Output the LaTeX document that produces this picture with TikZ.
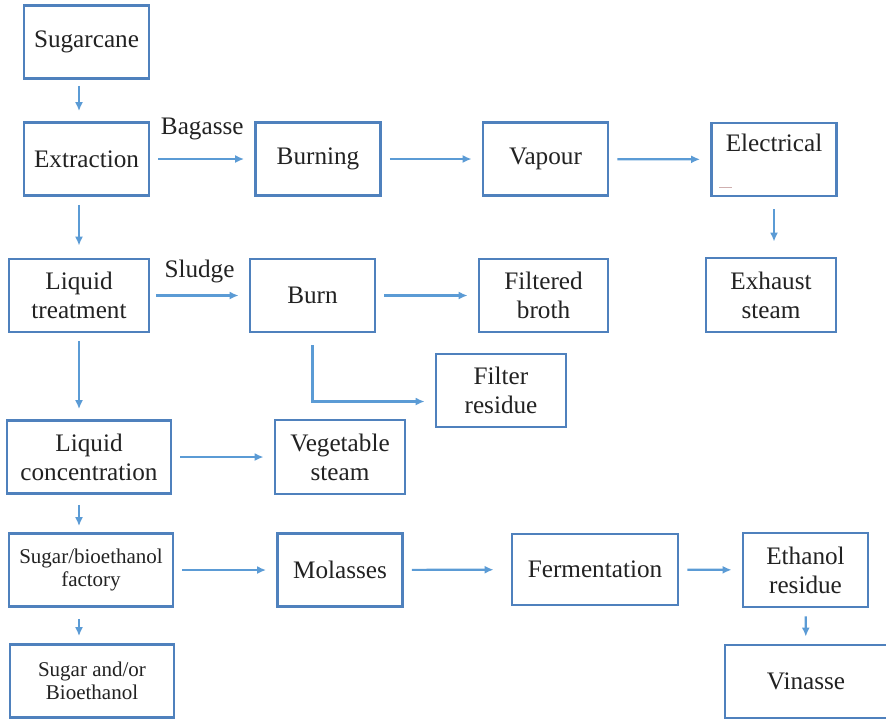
\documentclass[tikz,border=0pt]{standalone}
\usepackage{fontspec}
\setmainfont{LiberationSerif}[Extension=.ttf, UprightFont=*-Regular, BoldFont=*-Bold, ItalicFont=*-Italic]
\usepackage{xcolor}
\usepackage{tikz}
\usetikzlibrary{arrows.meta}
\definecolor{boxblue}{HTML}{4F81BD}
\definecolor{arrowblue}{HTML}{5B9BD5}
\definecolor{inkgray}{HTML}{222222}

\begin{document}
\begin{tikzpicture}[
  x=0.5pt, y=-0.5pt,
  procb/.style={
    rectangle, draw=boxblue, line width=1.4pt,
    fill=white, inner sep=0pt,
    minimum width=62.5pt, minimum height=36.5pt,
    align=center, font=\fontsize{12.6}{14.5}\selectfont, text=inkgray
  },
  smallb/.style={
    procb, font=\fontsize{10.5}{11.5}\selectfont
  },
  arr/.style={-{Latex[length=4.5pt,width=4pt]}, line width=1.1pt, arrowblue,
    shorten <=4pt, shorten >=5pt},
  flowlbl/.style={font=\fontsize{12.6}{14.5}\selectfont, text=inkgray, inner sep=0pt}
]
\useasboundingbox (0,0) rectangle (886,719);

%=== TOP ROW ===
\node[procb] (cane)    at (86.5,42)  {Sugarcane};
\node[procb] (extr)    at (86.5,159) {Extraction};
\node[procb] (burning) at (318,159)  {Burning};
\node[procb] (vapour)  at (545.5,159) {Vapour};
\node[procb] (elec)    at (774,159.5) {Electrical\\[2pt]\mbox{}};

%=== SECOND ROW ===
\node[procb, minimum width=70pt] (ltreat) at (79,295.5) {Liquid\\treatment};
\node[procb] (burn) at (312.5,295.5) {Burn};
\node[procb, minimum width=64.5pt] (broth) at (543.5,295.5) {Filtered\\broth};
\node[procb, minimum width=65pt, minimum height=37pt] (exhaust) at (771,295) {Exhaust\\steam};
\node[procb, minimum width=65pt] (residue) at (501,390.5) {Filter\\residue};

%=== CONCENTRATION ROW ===
\node[procb, minimum width=82pt] (lconc) at (89,457) {Liquid\\concentration};
\node[procb, minimum width=65pt, minimum height=37pt] (vegsteam) at (340,457) {Vegetable\\steam};

%=== FACTORY ROW ===
\node[smallb, minimum width=82pt] (factory) at (91,570) {Sugar/bioethanol\\factory};
\node[procb] (molasses) at (340,570) {Molasses};
\node[procb, minimum width=83pt, minimum height=35.5pt] (ferment) at (595,569.5) {Fermentation};
\node[procb, minimum height=37pt] (ethres) at (805.5,570) {Ethanol\\residue};

%=== BOTTOM ROW ===
\node[smallb, minimum width=82pt] (product) at (92,681) {Sugar and/or\\Bioethanol};
\node[procb, minimum width=81pt] (vinasse) at (806,681.5) {Vinasse};

%=== MAIN LINE (left column) ===
\draw[arr, shorten <=3pt] (cane.south -| ltreat.north) -- (extr.north -| ltreat.north);
\draw[arr, shorten >=6pt] (extr.south -| ltreat.north) -- (ltreat.north);
\draw[arr] (ltreat.south) -- (ltreat.south |- lconc.north);
\draw[arr, shorten <=5pt, shorten >=3pt] (lconc.south -| ltreat.south) -- (factory.north -| ltreat.south);
\draw[arr, shorten <=5.5pt, shorten >=3.5pt] (factory.south -| ltreat.south) -- (product.north -| ltreat.south);

%=== SIDE BRANCHES ===
\draw[arr] (extr) -- (burning) node[flowlbl, midway, above=9pt] {Bagasse};
\draw[arr] (burning) -- (vapour);
\draw[arr] (vapour) -- (elec);
\draw[arr, shorten <=6pt, shorten >=7.5pt] (elec.south) -- (elec.south |- exhaust.north);
\draw[line width=0.5pt, red!25!gray!50] ([shift={(4.5pt,5pt)}]elec.south west) -- ++(13,0);

\draw[arr, shorten <=3pt] (ltreat) -- (burn) node[flowlbl, midway, above=5.5pt] {Sludge};
\draw[arr] (burn) -- (broth);
\draw[arr, shorten <=6pt] (burn.south) |- ([yshift=-5.5pt]residue.west);

\draw[arr] (lconc) -- (vegsteam);
\draw[arr] (factory) -- (molasses);
\draw[arr, shorten >=8.5pt] (molasses) -- (ferment);
\draw[arr] (ferment) -- (ethres);
\draw[arr, shorten >=3.5pt] (ethres) -- (vinasse);

\end{tikzpicture}
\end{document}
